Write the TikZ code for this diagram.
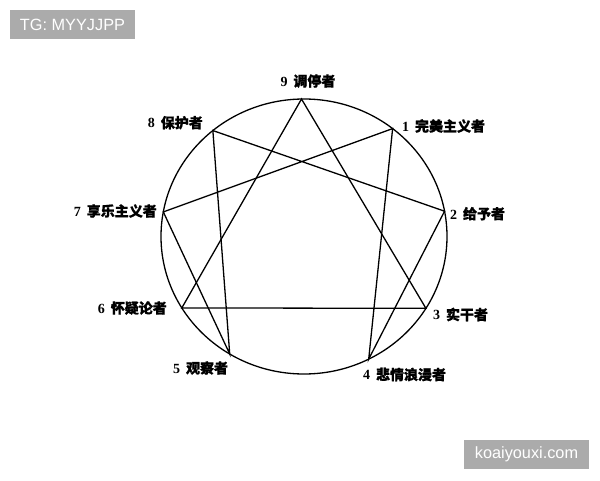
\documentclass[tikz,border=0pt]{standalone}
\usepackage{fontspec}
\setmainfont{Liberation Serif}
\setsansfont{Liberation Sans}
\newfontfamily\cjk[FakeBold=1]{Noto Sans CJK SC}
\usetikzlibrary{positioning}

\begin{document}
\begin{tikzpicture}[x=1pt, y=1pt,
    type/.style={font=\fontsize{14}{16}\selectfont\bfseries, inner sep=0pt},
    tagbox/.style={fill=black!33, text=white, font=\sffamily\fontsize{16.3}{18}\selectfont,
        minimum width=125pt, minimum height=29pt, inner sep=0pt},
    line/.style={line width=1.3pt}]
    \useasboundingbox[fill=white] (0,0) rectangle (600,480);
    \coordinate (c) at (304,243.5);
    \draw[line] (c) ellipse [x radius=143, y radius=137.5];
    % points on the ring
    \foreach \n/\a in {9/91, 1/51.7, 2/10.6, 3/-31.5, 4/-63.1, 5/-121.3, 6/-148.7, 7/169.7, 8/129.6}
        \path (c) ++(\a:143 and 137.5) coordinate (p\n);
    \draw[line] (p9) -- (p3) -- (p6) -- cycle;
    \draw[line] (p1) -- (p4) -- (p2) -- (p8) -- (p5) -- (p7) -- cycle;
    % type names
    \node[type] (n9) at (308,399) {9\, \cjk 调停者};
    \node[type, anchor=west] (n1) at (402,354) {1\, \cjk 完美主义者};
    \node[type, anchor=west] (n2) at (450,266.3) {2\, \cjk 给予者};
    \node[type, anchor=west] (n3) at (433,165.5) {3\, \cjk 实干者};
    \node[type, anchor=west] (n4) at (363,105.5) {4\, \cjk 悲情浪漫者};
    \node[type, anchor=west] (n5) at (173,112) {5\, \cjk 观察者};
    \node[type, anchor=east] (n6) at (167,172) {6\, \cjk 怀疑论者};
    \node[type, anchor=east] (n7) at (157,269) {7\, \cjk 享乐主义者};
    \node[type, anchor=east] (n8) at (203,357.3) {8\, \cjk 保护者};
    % watermarks
    \node[tagbox] (tg) at (72.5,455.5) {TG: MYYJJPP};
    \node[tagbox] (site) at (526.5,25.5) {koaiyouxi.com};
\end{tikzpicture}
\end{document}
